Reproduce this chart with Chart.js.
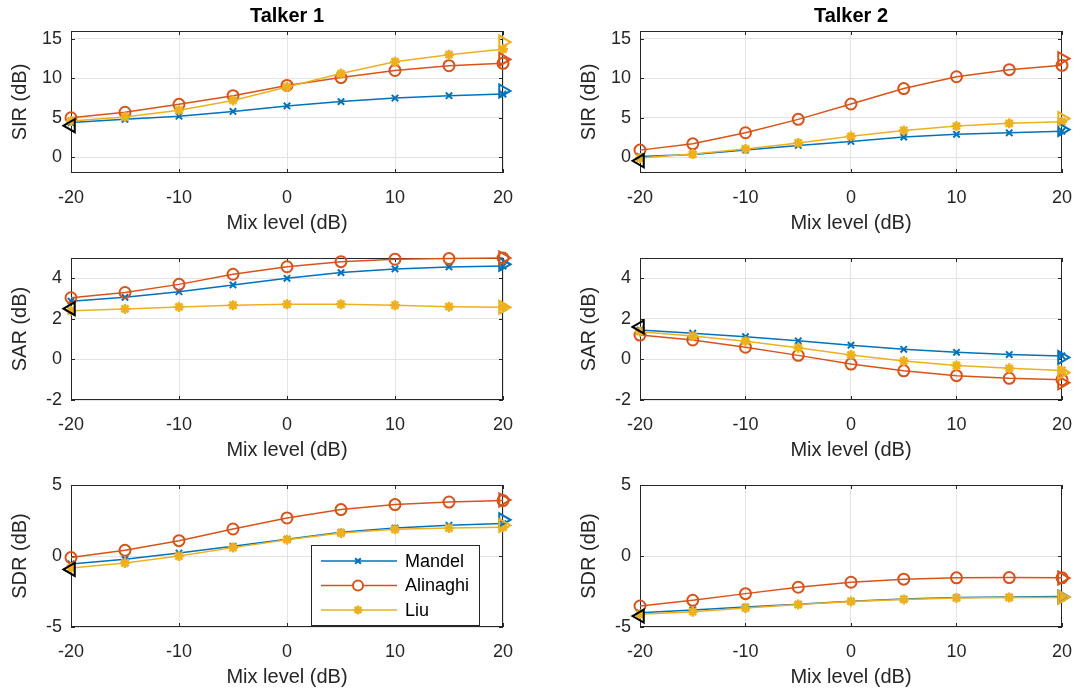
<!DOCTYPE html>
<html>
<head>
<meta charset="utf-8">
<script src="https://cdn.jsdelivr.net/npm/chart.js@4/dist/chart.umd.min.js"></script>
<style>
  html, body { margin: 0; padding: 0; background: #fff; overflow: hidden; }
  body { width: 1086px; height: 689px; position: relative; }
  canvas { position: absolute; }
</style>
</head>
<body>
<canvas id="sir1"></canvas>
<canvas id="sir2"></canvas>
<canvas id="sar1"></canvas>
<canvas id="sar2"></canvas>
<canvas id="sdr1"></canvas>
<canvas id="sdr2"></canvas>
<script>
const mixLevels = [-20, -15, -10, -5, 0, 5, 10, 15, 20];
const methods = ["Mandel", "Alinaghi", "Liu"];
const xTicks = [-20, -10, 0, 10, 20];
const sirTicks = [0, 5, 10, 15];
const sarTicks = [-2, 0, 2, 4];
const sdrTicks = [-5, 0, 5];

// Talker 1
const sirT1Mandel = [4.4, 4.8, 5.2, 5.8, 6.5, 7.05, 7.5, 7.8, 8.0];
const sirT1Alinaghi = [5.0, 5.7, 6.7, 7.8, 9.1, 10.1, 11.0, 11.6, 11.9];
const sirT1Liu = [4.6, 5.1, 5.95, 7.2, 8.9, 10.6, 12.1, 13.0, 13.7];
const sarT1Mandel = [2.87, 3.06, 3.34, 3.67, 4.0, 4.28, 4.46, 4.56, 4.6];
const sarT1Alinaghi = [3.04, 3.3, 3.7, 4.2, 4.57, 4.82, 4.94, 4.97, 5.0];
const sarT1Liu = [2.4, 2.49, 2.59, 2.67, 2.72, 2.72, 2.67, 2.6, 2.57];
const sdrT1Mandel = [-0.56, -0.23, 0.21, 0.68, 1.18, 1.67, 1.97, 2.16, 2.28];
const sdrT1Alinaghi = [-0.11, 0.4, 1.08, 1.9, 2.68, 3.27, 3.62, 3.8, 3.9];
const sdrT1Liu = [-0.85, -0.49, 0.0, 0.59, 1.15, 1.62, 1.88, 1.97, 2.02];

// Talker 2
const sirT2Mandel = [0.1, 0.35, 0.9, 1.5, 2.0, 2.55, 2.9, 3.1, 3.3];
const sirT2Alinaghi = [0.9, 1.7, 3.1, 4.8, 6.75, 8.7, 10.2, 11.1, 11.65];
const sirT2Liu = [-0.1, 0.4, 1.05, 1.8, 2.65, 3.4, 3.95, 4.3, 4.5];
const sarT2Mandel = [1.45, 1.29, 1.12, 0.92, 0.7, 0.5, 0.35, 0.24, 0.17];
const sarT2Alinaghi = [1.2, 0.96, 0.6, 0.2, -0.23, -0.56, -0.8, -0.93, -1.0];
const sarT2Liu = [1.37, 1.16, 0.9, 0.58, 0.22, -0.08, -0.3, -0.44, -0.54];
const sdrT2Mandel = [-4.0, -3.8, -3.6, -3.4, -3.19, -3.03, -2.93, -2.89, -2.86];
const sdrT2Alinaghi = [-3.52, -3.12, -2.65, -2.2, -1.85, -1.63, -1.54, -1.52, -1.54];
const sdrT2Liu = [-4.1, -3.92, -3.66, -3.42, -3.2, -3.06, -2.95, -2.93, -2.93];

// mixture value (black triangle at -20 dB) and end markers (triangles at +20 dB)
const sirT1Mix = 4.0, sirT1Ends = [8.4, 12.4, 14.6];
const sarT1Mix = 2.5, sarT1Ends = [4.69, 5.0, 2.57];
const sdrT1Mix = -0.95, sdrT1Ends = [2.55, 3.95, 2.15];
const sirT2Mix = -0.45, sirT2Ends = [3.5, 12.5, 4.9];
const sarT2Mix = 1.6, sarT2Ends = [0.1, -1.15, -0.65];
const sdrT2Mix = -4.23, sdrT2Ends = [-2.88, -1.55, -2.9];

const colors = ["#0072BD", "#D95319", "#EDB120"];
const markers = ["crossRot", "circle", "star"];
const markerSize = [4.5, 5.5, 5];
const markerWidth = [2, 2, 2.5];
const ink = "#262626";
const fontFamily = '"Liberation Sans", Arial, Helvetica, sans-serif';

Chart.defaults.font.family = fontFamily;
Chart.defaults.color = ink;

// axis box with MATLAB-like inward ticks
const axesFrame = {
    id: "axesFrame",
    beforeDatasetsDraw(chart) {
        const { ctx, chartArea: a, scales: { x, y } } = chart;
        const len = 4;
        ctx.save();
        ctx.strokeStyle = ink;
        ctx.lineWidth = 1;
        ctx.strokeRect(Math.round(a.left) + 0.5, Math.round(a.top) + 0.5, Math.round(a.width) - 1, Math.round(a.height) - 1);
        ctx.beginPath();
        x.ticks.forEach(t => {
            const px = Math.round(x.getPixelForValue(t.value)) + 0.5;
            ctx.moveTo(px, a.bottom); ctx.lineTo(px, a.bottom - len);
            ctx.moveTo(px, a.top); ctx.lineTo(px, a.top + len);
        });
        y.ticks.forEach(t => {
            const py = Math.round(y.getPixelForValue(t.value)) + 0.5;
            ctx.moveTo(a.left, py); ctx.lineTo(a.left + len, py);
            ctx.moveTo(a.right, py); ctx.lineTo(a.right - len, py);
        });
        ctx.stroke();
        ctx.restore();
    }
};

// boxed legend drawn inside the plot area
const boxLegend = {
    id: "boxLegend",
    afterDatasetsDraw(chart, args, opts) {
        if (!opts.show) return;
        const { ctx, chartArea: a } = chart;
        const w = 168, h = 80;
        const left = a.right - 24 - w, top = a.bottom - 2 - h;
        ctx.save();
        ctx.fillStyle = "#fff";
        ctx.fillRect(left, top, w, h);
        ctx.strokeStyle = ink;
        ctx.lineWidth = 1;
        ctx.strokeRect(Math.round(left) + 0.5, Math.round(top) + 0.5, w, h);
        methods.forEach((name, i) => {
            const cy = top + 16 + i * 24.5;
            ctx.strokeStyle = colors[i];
            ctx.lineWidth = 1.5;
            ctx.beginPath();
            ctx.moveTo(left + 10, cy);
            ctx.lineTo(left + 86, cy);
            ctx.stroke();
            ctx.fillStyle = i === 1 ? "#fff" : colors[i];
            ctx.lineWidth = markerWidth[i];
            Chart.helpers.drawPoint(ctx, { pointStyle: markers[i], radius: markerSize[i] - 0.5, borderWidth: markerWidth[i], rotation: 0 }, left + 47, cy);
            ctx.fillStyle = "#000";
            ctx.font = "18px " + fontFamily;
            ctx.textBaseline = "middle";
            ctx.textAlign = "left";
            ctx.fillText(name, left + 94, cy + 1);
        });
        ctx.restore();
    }
};

function makePanel(id, cfg) {
    const canvas = document.getElementById(id);
    const colLeft = [0, 569], colWidth = [538, 517], rightPad = [35, 14];
    const rowTop = [0, 227, 454];
    canvas.width = colWidth[cfg.col];
    canvas.height = 237;
    canvas.style.left = colLeft[cfg.col] + "px";
    canvas.style.top = rowTop[cfg.row] + "px";

    const lines = cfg.series.map((vals, i) => ({
        label: methods[i],
        data: mixLevels.map((x, k) => ({ x: x, y: vals[k] })),
        borderColor: colors[i],
        borderWidth: 1.5,
        pointStyle: markers[i],
        pointRadius: markerSize[i],
        pointBorderWidth: markerWidth[i],
        pointBorderColor: colors[i],
        pointBackgroundColor: i === 1 ? "rgba(0,0,0,0)" : colors[i],
        clip: false,
        order: 10 - i
    }));
    const ends = cfg.ends.map((v, i) => ({
        label: methods[i] + " (20 dB)",
        data: [{ x: 20, y: v }],
        showLine: false,
        pointStyle: "triangle",
        rotation: 90,
        pointRadius: 7.5,
        pointBorderWidth: 2,
        pointBorderColor: colors[i],
        pointBackgroundColor: "rgba(0,0,0,0)",
        clip: false,
        order: 5 - i
    }));
    const mix = {
        label: "Mixture",
        data: [{ x: -20, y: cfg.mix }],
        showLine: false,
        pointStyle: "triangle",
        rotation: -90,
        pointRadius: 7.5,
        pointBorderWidth: 2,
        pointBorderColor: "#000",
        pointBackgroundColor: "rgba(0,0,0,0)",
        clip: false,
        order: 0
    };

    return new Chart(canvas, {
        type: "line",
        plugins: [axesFrame, boxLegend],
        data: { datasets: [...lines, ...ends, mix] },
        options: {
            responsive: false,
            animation: false,
            devicePixelRatio: 1,
            events: [],
            layout: { padding: { top: cfg.title ? 0 : 31, right: rightPad[cfg.col], left: 0, bottom: 0 } },
            plugins: {
                legend: { display: false },
                tooltip: { enabled: false },
                boxLegend: { show: !!cfg.legend },
                title: {
                    display: !!cfg.title,
                    text: cfg.title || "",
                    fullSize: false,
                    color: "#000",
                    font: { size: 20, weight: "bold" },
                    padding: { top: 4, bottom: 3 }
                }
            },
            scales: {
                x: {
                    type: "linear",
                    min: -20,
                    max: 20,
                    afterBuildTicks: s => { s.ticks = xTicks.map(v => ({ value: v })); },
                    afterFit: s => { s.height = 64; },
                    grid: { color: "#e3e3e3", drawTicks: false },
                    border: { display: false },
                    ticks: { padding: 14, font: { size: 18 }, color: ink },
                    title: { display: true, text: "Mix level (dB)", font: { size: 20 }, color: ink, padding: { top: 0, bottom: 2 } }
                },
                y: {
                    type: "linear",
                    min: cfg.yMin,
                    max: cfg.yMax,
                    afterBuildTicks: s => { s.ticks = cfg.yTicks.map(v => ({ value: v })); },
                    afterFit: s => { s.width = 71; },
                    grid: { color: "#e3e3e3", drawTicks: false },
                    border: { display: false },
                    ticks: { padding: 9, font: { size: 18 }, color: ink },
                    title: { display: true, text: cfg.yLabel, font: { size: 20 }, color: ink, padding: { top: 8, bottom: 0 } }
                }
            }
        }
    });
}

makePanel("sir1", { col: 0, row: 0, title: "Talker 1", yLabel: "SIR (dB)", yMin: -2, yMax: 16, yTicks: sirTicks,
    series: [sirT1Mandel, sirT1Alinaghi, sirT1Liu], mix: sirT1Mix, ends: sirT1Ends });
makePanel("sir2", { col: 1, row: 0, title: "Talker 2", yLabel: "SIR (dB)", yMin: -2, yMax: 16, yTicks: sirTicks,
    series: [sirT2Mandel, sirT2Alinaghi, sirT2Liu], mix: sirT2Mix, ends: sirT2Ends });
makePanel("sar1", { col: 0, row: 1, yLabel: "SAR (dB)", yMin: -2, yMax: 5, yTicks: sarTicks,
    series: [sarT1Mandel, sarT1Alinaghi, sarT1Liu], mix: sarT1Mix, ends: sarT1Ends });
makePanel("sar2", { col: 1, row: 1, yLabel: "SAR (dB)", yMin: -2, yMax: 5, yTicks: sarTicks,
    series: [sarT2Mandel, sarT2Alinaghi, sarT2Liu], mix: sarT2Mix, ends: sarT2Ends });
makePanel("sdr1", { col: 0, row: 2, yLabel: "SDR (dB)", yMin: -5, yMax: 5, yTicks: sdrTicks, legend: true,
    series: [sdrT1Mandel, sdrT1Alinaghi, sdrT1Liu], mix: sdrT1Mix, ends: sdrT1Ends });
makePanel("sdr2", { col: 1, row: 2, yLabel: "SDR (dB)", yMin: -5, yMax: 5, yTicks: sdrTicks,
    series: [sdrT2Mandel, sdrT2Alinaghi, sdrT2Liu], mix: sdrT2Mix, ends: sdrT2Ends });
</script>
</body>
</html>
